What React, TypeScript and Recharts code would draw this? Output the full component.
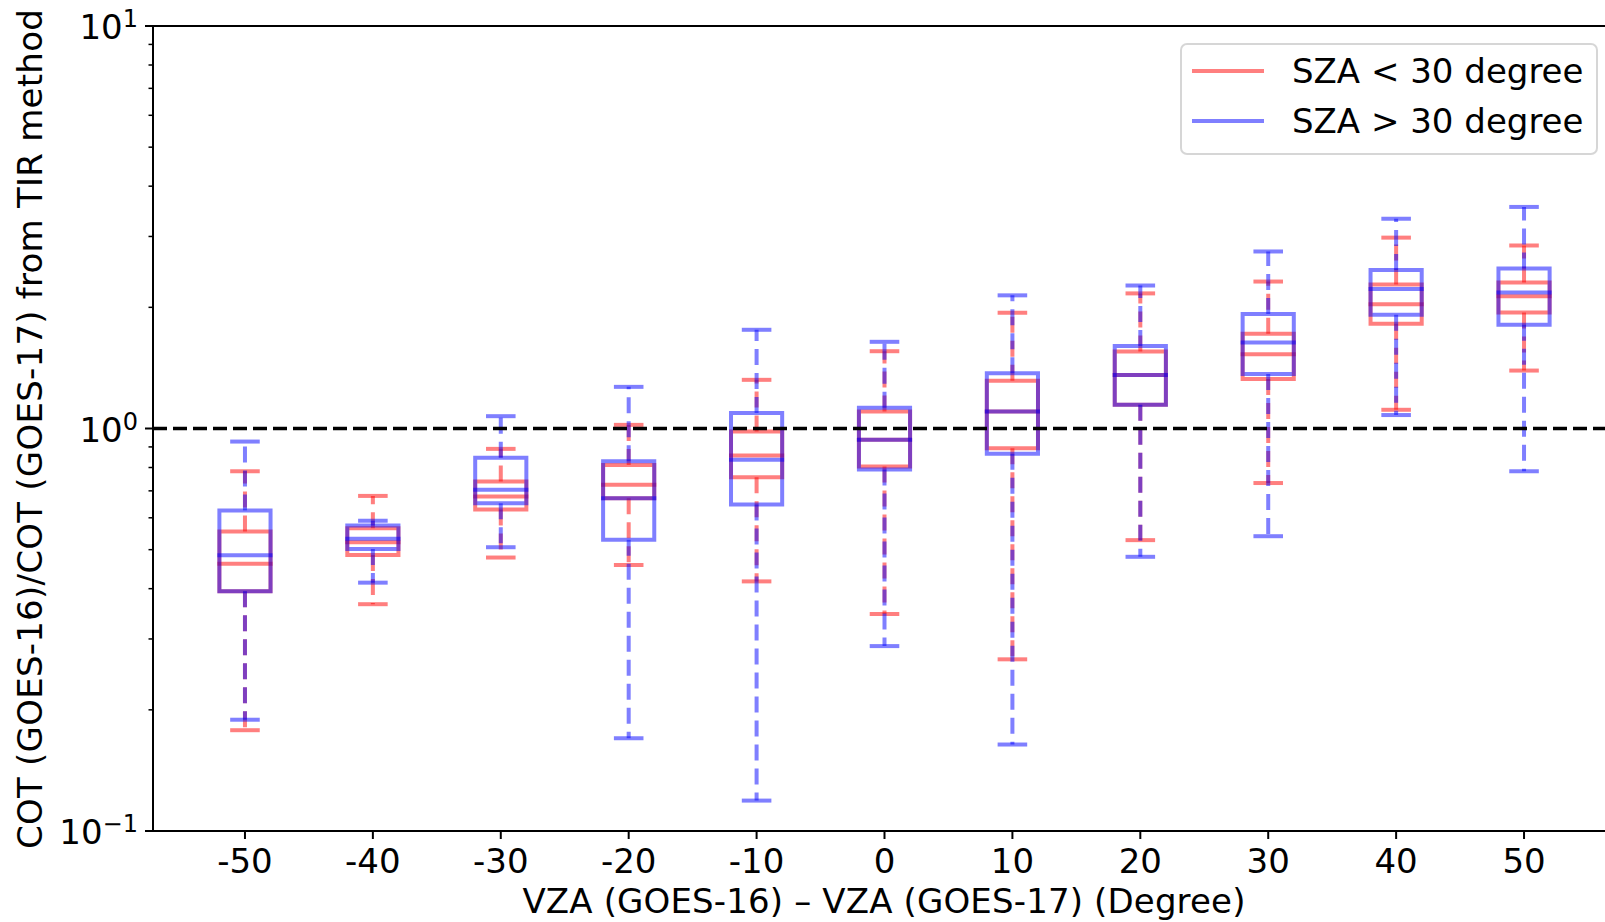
import React from 'react';
import { ComposedChart, XAxis, YAxis, ReferenceLine, ReferenceArea } from 'recharts';

// ---- Data ----
const categories = [-50, -40, -30, -20, -10, 0, 10, 20, 30, 40, 50];
const xTickLabels = ['-50', '-40', '-30', '-20', '-10', '0', '10', '20', '30', '40', '50'];

// SZA < 30 degree (red)
const redLow = [0.178, 0.366, 0.478, 0.458, 0.417, 0.346, 0.267, 0.528, 0.732, 1.113, 1.393];
const redQ1 = [0.394, 0.485, 0.629, 0.671, 0.757, 0.805, 0.893, 1.145, 1.327, 1.821, 1.941];
const redMedian = [0.461, 0.522, 0.678, 0.725, 0.857, 0.937, 1.102, 1.359, 1.53, 2.037, 2.132];
const redQ3 = [0.555, 0.565, 0.738, 0.812, 0.983, 1.102, 1.315, 1.553, 1.72, 2.28, 2.304];
const redHigh = [0.783, 0.68, 0.89, 1.021, 1.321, 1.556, 1.939, 2.166, 2.318, 2.98, 2.849];

// SZA > 30 degree (blue)
const blueLow = [0.189, 0.414, 0.507, 0.17, 0.119, 0.288, 0.164, 0.48, 0.54, 1.08, 0.783];
const blueQ1 = [0.394, 0.502, 0.652, 0.529, 0.647, 0.791, 0.865, 1.145, 1.365, 1.917, 1.811];
const blueMedian = [0.484, 0.532, 0.704, 0.671, 0.836, 0.937, 1.102, 1.359, 1.635, 2.221, 2.176];
const blueQ3 = [0.626, 0.574, 0.846, 0.829, 1.092, 1.126, 1.372, 1.602, 1.924, 2.475, 2.499];
const blueHigh = [0.928, 0.59, 1.073, 1.269, 1.759, 1.642, 2.142, 2.266, 2.753, 3.32, 3.552];

const yTicks = [0.1, 0.2, 0.3, 0.4, 0.5, 0.6, 0.7, 0.8, 0.9, 1, 2, 3, 4, 5, 6, 7, 8, 9, 10];
const yMajor = [0.1, 1, 10];
const yMajorExp = ['\u22121', '0', '1'];

const legendLabels = ['SZA < 30 degree', 'SZA > 30 degree'];
const referenceValue = 1;

const tableData = categories.map((c, i) => ({
  x: c,
  redLow: redLow[i], redQ1: redQ1[i], redMedian: redMedian[i], redQ3: redQ3[i], redHigh: redHigh[i],
  blueLow: blueLow[i], blueQ1: blueQ1[i], blueMedian: blueMedian[i], blueQ3: blueQ3[i], blueHigh: blueHigh[i],
}));

// ---- Style ----
const FONT = 'DejaVu Sans';
const RED = '#ff0000';
const BLUE = '#0000ff';
const LW = 4;
const BOX_HALF = 2;
const CAP_HALF = 1;

function boxElements(prefix: string, color: string, z: number, low: number[], q1: number[], med: number[], q3: number[], high: number[]) {
  const els: React.ReactNode[] = [];
  categories.forEach((c, i) => {
    const common = { stroke: color, strokeOpacity: 0.5, strokeWidth: LW, ifOverflow: 'visible' as const, zIndex: z };
    els.push(
      <ReferenceLine key={`${prefix}-wl-${i}`} {...common} strokeDasharray="16 8" strokeLinecap="butt"
        segment={[{ x: c, y: q1[i] }, { x: c, y: low[i] }]} />
    );
    els.push(
      <ReferenceLine key={`${prefix}-wh-${i}`} {...common} strokeDasharray="16 8" strokeLinecap="butt"
        segment={[{ x: c, y: q3[i] }, { x: c, y: high[i] }]} />
    );
    els.push(
      <ReferenceLine key={`${prefix}-cl-${i}`} {...common} strokeLinecap="square"
        segment={[{ x: c - CAP_HALF, y: low[i] }, { x: c + CAP_HALF, y: low[i] }]} />
    );
    els.push(
      <ReferenceLine key={`${prefix}-ch-${i}`} {...common} strokeLinecap="square"
        segment={[{ x: c - CAP_HALF, y: high[i] }, { x: c + CAP_HALF, y: high[i] }]} />
    );
    els.push(
      <ReferenceArea key={`${prefix}-box-${i}`} x1={c - BOX_HALF} x2={c + BOX_HALF} y1={q1[i]} y2={q3[i]}
        fill="none" fillOpacity={0} stroke={color} strokeOpacity={0.5} strokeWidth={LW}
        ifOverflow="visible" zIndex={z} />
    );
    els.push(
      <ReferenceLine key={`${prefix}-med-${i}`} {...common} strokeLinecap="square"
        segment={[{ x: c - BOX_HALF, y: med[i] }, { x: c + BOX_HALF, y: med[i] }]} />
    );
  });
  return els;
}

const YTick = (props: any) => {
  const { x, y, payload } = props;
  const v = payload.value;
  const mi = yMajor.findIndex((m) => Math.abs(m - v) < 1e-9);
  const major = mi >= 0;
  const len = major ? 8 : 4.5;
  return (
    <g>
      <line x1={x} x2={x - len} y1={y} y2={y} stroke="#000" strokeWidth={major ? 2 : 1.5} />
      {major && (
        <text x={x - 15} y={y + 13} textAnchor="end" fontSize={34} fontFamily={FONT} fill="#000">
          10<tspan dy={-12} fontSize={24}>{yMajorExp[mi]}</tspan>
        </text>
      )}
    </g>
  );
};

const XTick = (props: any) => {
  const { x, y, payload } = props;
  const idx = categories.indexOf(payload.value);
  return (
    <text x={x} y={y + 34} textAnchor="middle" fontSize={34} fontFamily={FONT} fill="#000">
      {idx >= 0 ? xTickLabels[idx] : String(payload.value)}
    </text>
  );
};

const XTitle = () => (
  <text x={884} y={913} textAnchor="middle" fontSize={34} fontFamily={FONT} fill="#000" letterSpacing={0.15}>
    VZA (GOES-16) – VZA (GOES-17) (Degree)
  </text>
);

const YTitle = () => (
  <text x={42} y={429} transform="rotate(-90, 42, 429)" textAnchor="middle" fontSize={34} fontFamily={FONT} fill="#000" letterSpacing={0.25}>
    COT (GOES-16)/COT (GOES-17) from TIR method
  </text>
);

export default function App() {
  return (
    <div style={{ position: 'absolute', left: 0, top: 0, width: 1605, height: 922, overflow: 'hidden', background: '#fff' }}>
      <ComposedChart width={1620} height={922} data={tableData} margin={{ top: 26, right: 4, bottom: 0, left: 0 }}>
        <XAxis
          dataKey="x"
          type="number"
          domain={[-57.19, 57.19]}
          allowDataOverflow
          ticks={categories}
          interval={0}
          tickSize={8}
          tickMargin={0}
          height={91}
          axisLine={{ stroke: '#000', strokeWidth: 2 }}
          tickLine={{ stroke: '#000', strokeWidth: 2 }}
          tick={<XTick />}
          label={<XTitle />}
        />
        <YAxis
          type="number"
          scale="log"
          domain={[0.1, 10]}
          allowDataOverflow
          ticks={yTicks}
          interval={0}
          width={153}
          tickSize={0}
          tickMargin={0}
          tickLine={false}
          axisLine={{ stroke: '#000', strokeWidth: 2 }}
          tick={<YTick />}
          label={<YTitle />}
        />
        <ReferenceLine y={10} stroke="#000" strokeWidth={2} ifOverflow="visible" zIndex={900} />
        {boxElements('red', RED, 450, redLow, redQ1, redMedian, redQ3, redHigh)}
        {boxElements('blue', BLUE, 460, blueLow, blueQ1, blueMedian, blueQ3, blueHigh)}
        <ReferenceLine y={referenceValue} stroke="#000" strokeWidth={3.5} strokeDasharray="14 6" ifOverflow="visible" zIndex={470} />
      </ComposedChart>
      <div style={{
        position: 'absolute', left: 1180, top: 43, width: 414, height: 108,
        border: '2px solid rgba(204,204,204,0.8)', borderRadius: 7, background: 'rgba(255,255,255,0.8)',
        fontFamily: FONT, fontSize: 34, color: '#000',
      }}>
        {[RED, BLUE].map((col, i) => (
          <div key={i} style={{ position: 'absolute', left: 0, top: 1 + i * 50, height: 50, width: 414 }}>
            <div style={{ position: 'absolute', left: 10, top: 23, width: 72, height: 4, background: col, opacity: 0.5 }} />
            <div style={{ position: 'absolute', left: 110, top: 0, height: 50, lineHeight: '50px', whiteSpace: 'nowrap' }}>
              {legendLabels[i]}
            </div>
          </div>
        ))}
      </div>
    </div>
  );
}
